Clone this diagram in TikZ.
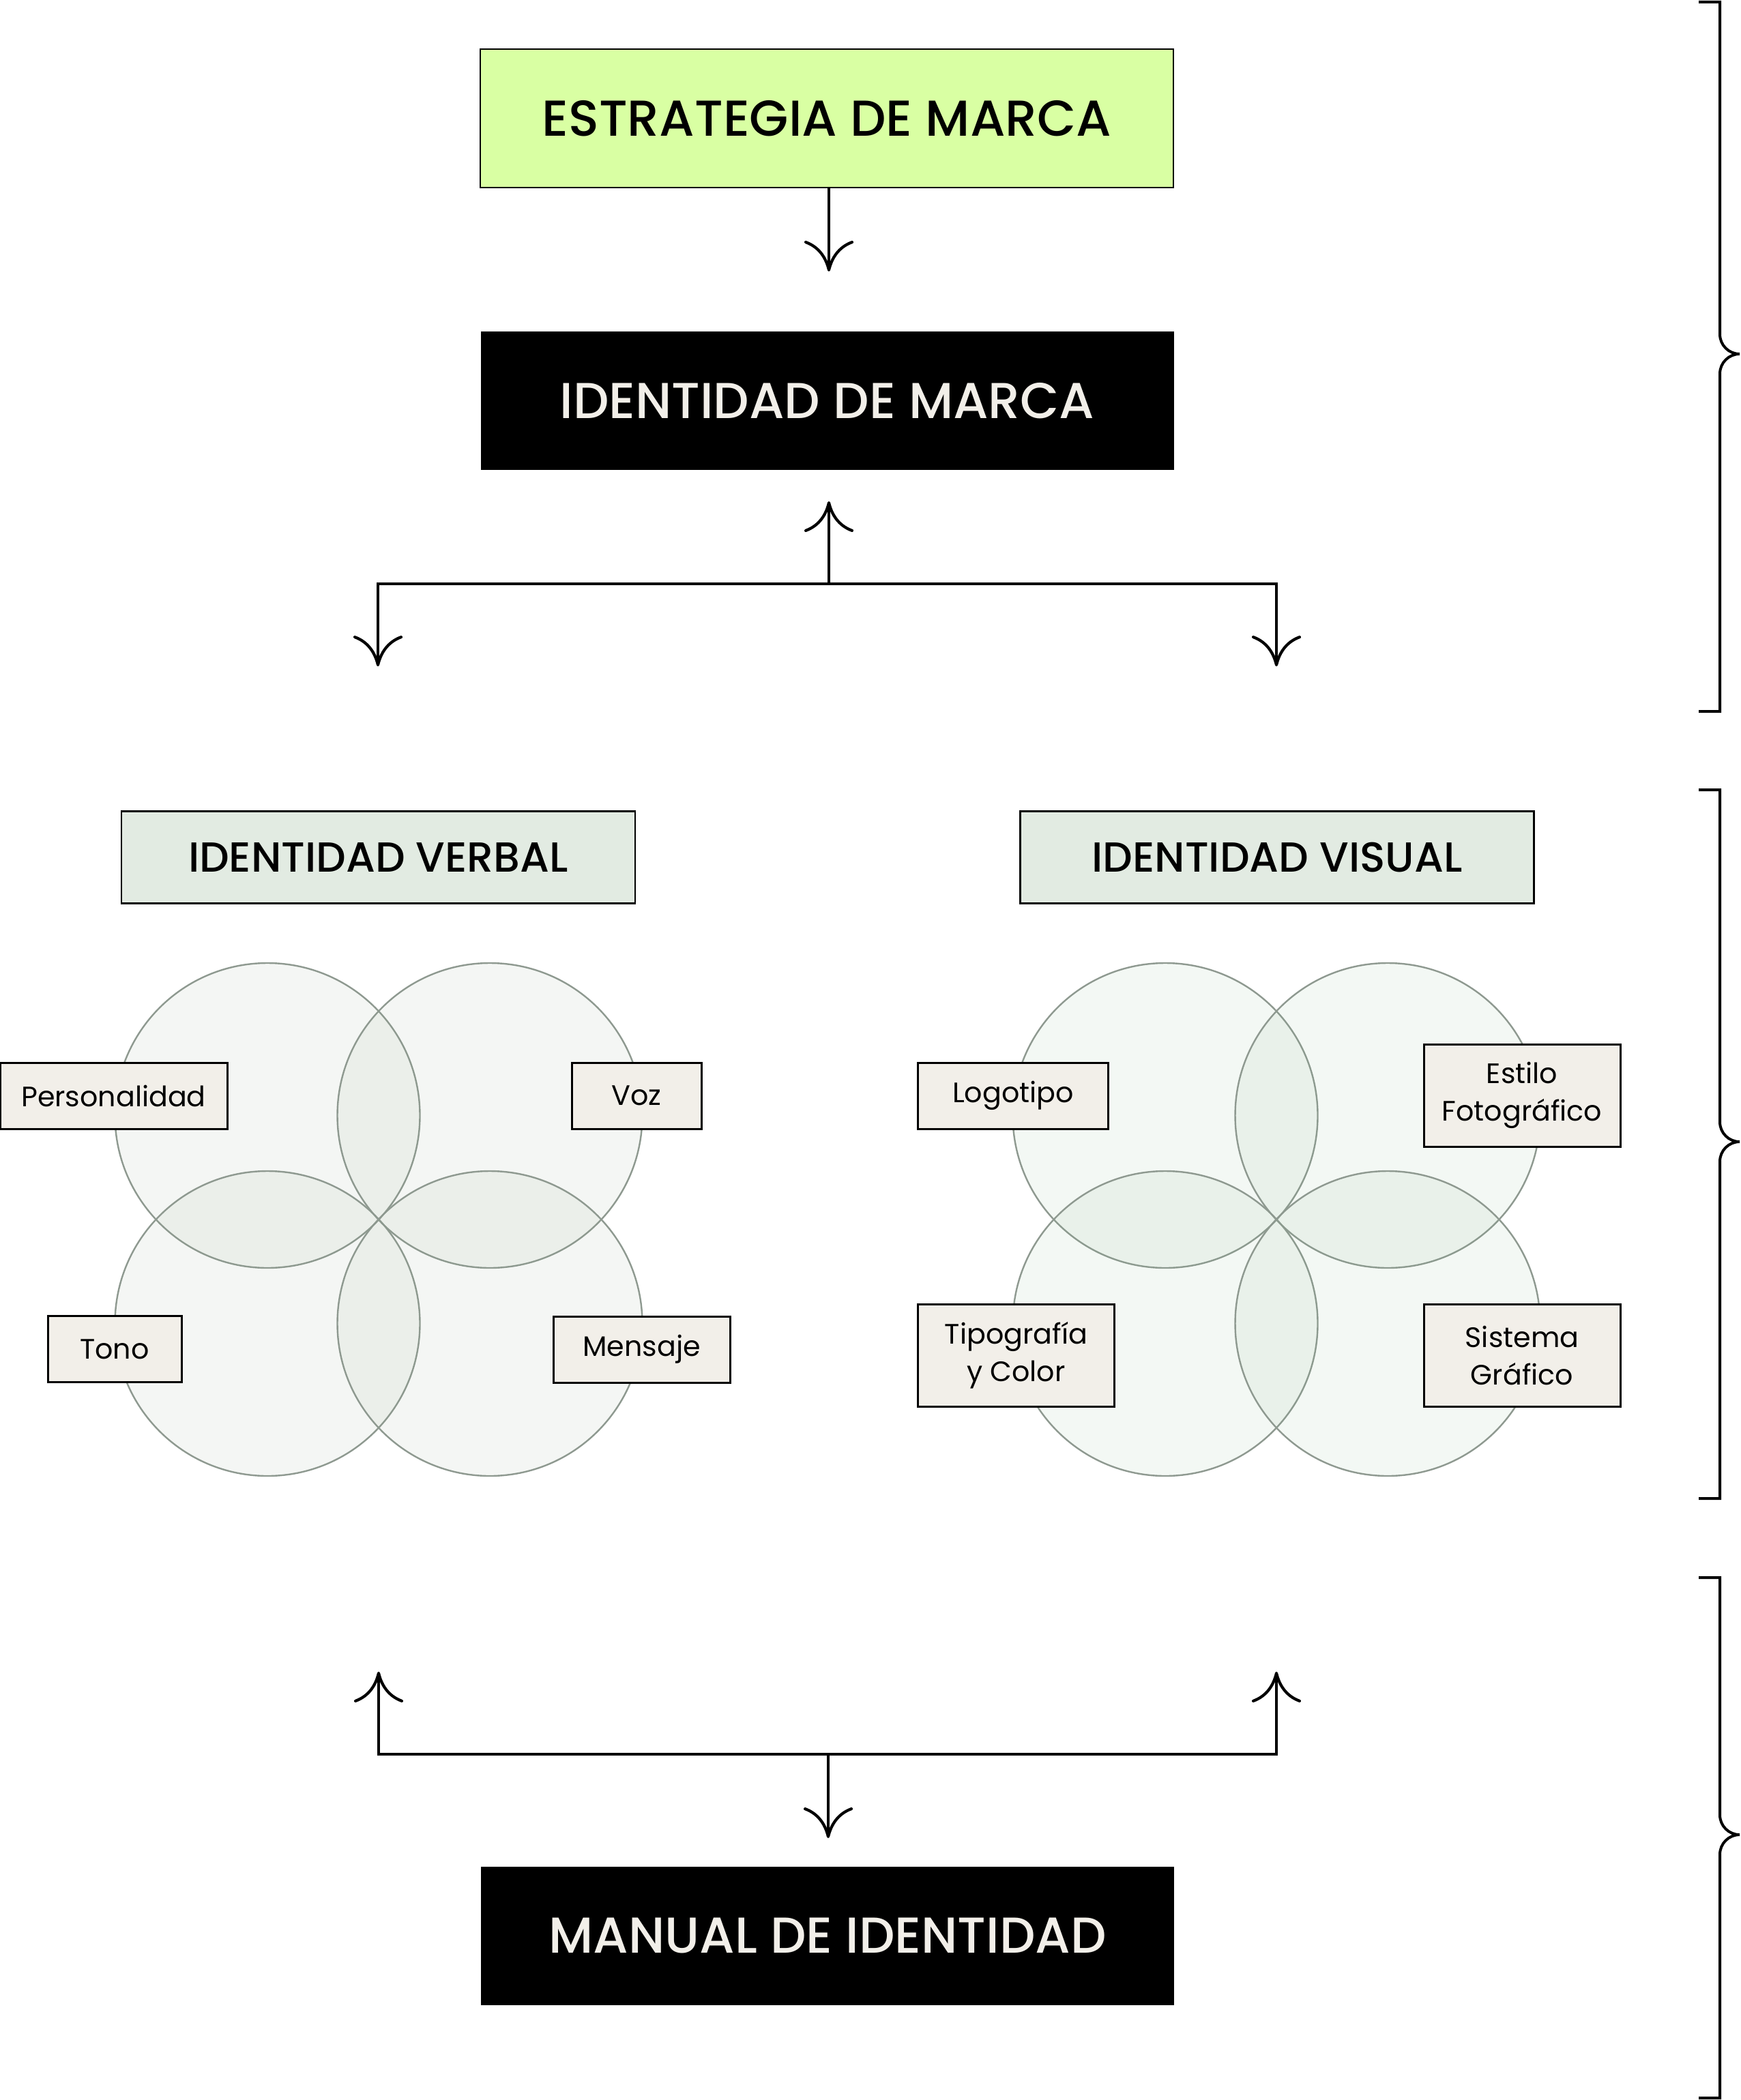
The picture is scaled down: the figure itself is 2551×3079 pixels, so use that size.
\documentclass[tikz,border=0pt]{standalone}
\usepackage{fontspec}
\setmainfont{Poppins}
\newfontfamily\headfont{Poppins}[UprightFont={* Medium}]
\usetikzlibrary{arrows.meta}
\def\px{0.25pt}
\definecolor{limefill}{HTML}{D9FFA3}
\definecolor{sagefill}{HTML}{E2EBE2}
\definecolor{tagfill}{HTML}{F2EFE9}
\definecolor{vennline}{HTML}{8E9990}
\definecolor{verbalfill}{HTML}{8AA085}
\definecolor{visualfill}{HTML}{7FAF86}
\tikzset{
  box/.style = {align=center, inner sep=0pt, text centered},
  mainbox/.style = {box, rectangle, draw=black, line width=0.5pt, fill=limefill, minimum width=1016*\px, minimum height=203*\px, font=\headfont\fontsize{18.5pt}{22pt}\selectfont},
  darkbox/.style = {mainbox, fill=black, draw=none, text=tagfill},
  subbox/.style = {box, rectangle, draw=black, line width=0.6pt, fill=sagefill, minimum width=753*\px, minimum height=135*\px, font=\headfont\fontsize{15.4pt}{18pt}\selectfont},
  tagbox/.style = {box, rectangle, draw=black, line width=0.75pt, fill=tagfill, minimum height=97*\px, font=\fontsize{10.3pt}{13.75pt}\selectfont},
  venn/.style = {draw=vennline, line width=0.6pt, fill opacity=0.09},
  link/.style = {line width=1.05pt, ->},
  brace/.style = {line width=1pt},
}
\begin{document}
\begin{tikzpicture}[x=\px, y=-\px, >={Computer Modern Rightarrow[length=11.25pt,width=18pt]}]
\useasboundingbox (0,0) rectangle (2551,3079);

% circles first, tags go on top
\foreach \cx/\col in {555/verbalfill, 1871/visualfill}
  \foreach \dx/\dy in {-163/-152.5, 163/-152.5, -163/152.5, 163/152.5}
    \draw[venn, fill=\col] (\cx+\dx, 1788+\dy) circle[radius=223.5];

\node[mainbox] (estrategia) at (1212, 174) {ESTRATEGIA DE MARCA};
\node[darkbox] (identidad) at (1212.5, 587.5) {IDENTIDAD DE MARCA};
\node[darkbox] (manual) at (1213, 2838) {MANUAL DE IDENTIDAD};
\node[subbox] (verbal) at (554.5, 1257) {IDENTIDAD VERBAL};
\node[subbox] (visual) at (1872, 1257) {IDENTIDAD VISUAL};

\node[tagbox, minimum width=333*\px] (personalidad) at (166.5, 1606.5) {Personalidad};
\node[tagbox, minimum width=190*\px] (voz) at (933, 1606.5) {Voz};
\node[tagbox, minimum width=196*\px] (tono) at (168, 1978) {Tono};
\node[tagbox, minimum width=259*\px] (mensaje) at (940.5, 1978.5) {Mensaje};
\node[tagbox, minimum width=279*\px] (logotipo) at (1485, 1606.5) {Logotipo};
\node[tagbox, minimum width=288*\px, minimum height=150*\px] (estilo) at (2231, 1606) {Estilo\\Fotográfico};
\node[tagbox, minimum width=288*\px, minimum height=150*\px] (tipografia) at (1489.5, 1987) {Tipografía\\y Color};
\node[tagbox, minimum width=288*\px, minimum height=150*\px] (sistema) at (2231, 1987) {Sistema\\Gráfico};

\coordinate (tipA) at (1215, 398);
\coordinate (jtop) at (1215, 856);
\coordinate (tipB) at (1215, 735);
\coordinate (tipL) at (554, 977);
\coordinate (tipR) at (1871, 977);
\draw[link] (estrategia.south -| tipA) -- (tipA);
\draw[link] (jtop) -- (tipB);
\draw[link, <->] (tipL) |- (jtop) -| (tipR);

\coordinate (jbot) at (1214, 2572);
\coordinate (tipC) at (1214, 2695);
\coordinate (tipLu) at (555, 2451);
\coordinate (tipRu) at (1871, 2451);
\draw[link, <->] (tipLu) |- (jbot) -| (tipRu);
\draw[link] (jbot) -- (tipC);

\foreach \ya/\ym/\yb in {3/519/1043, 1158/1674/2197, 2313/2690/3076}
  \draw[brace] (2490,\ya) -- (2521,\ya) -- (2521,\ym-29)
    arc[start angle=180, end angle=90, radius=29]
    arc[start angle=270, end angle=180, radius=29]
    -- (2521,\yb) -- (2490,\yb);
\end{tikzpicture}
\end{document}
